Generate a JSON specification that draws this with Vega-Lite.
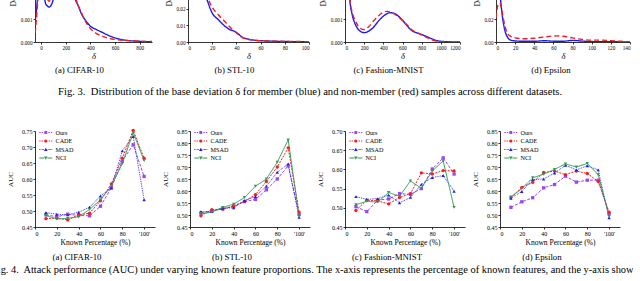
{
"$schema": "https://vega.github.io/schema/vega-lite/v6.json",
"padding": {"left": -8, "top": -54, "right": -2, "bottom": 0},
"background": "white",
"config": {
  "font": "Liberation Serif",
  "view": {"stroke": null},
  "axis": {"grid": false, "domainColor": "#000", "tickColor": "#000", "labelColor": "#000", "titleColor": "#000", "domainWidth": 0.8, "tickWidth": 0.8, "tickSize": 2, "titleFontWeight": "normal", "labelFont": "Liberation Serif", "titleFont": "Liberation Serif"},
  "title": {"font": "Liberation Serif", "fontWeight": "normal", "color": "#000"},
  "legend": {"labelFont": "Liberation Serif", "labelColor": "#000"}
},
"datasets": {
  "density": [
    {"p":"a","g":"m","x":-48,"y":0.0009},{"p":"a","g":"m","x":-40,"y":0.0013},{"p":"a","g":"m","x":-30,"y":0.0019},{"p":"a","g":"m","x":-15,"y":0.003},{"p":"a","g":"m","x":0,"y":0.0035},{"p":"a","g":"m","x":12,"y":0.0032},{"p":"a","g":"m","x":25,"y":0.0021},{"p":"a","g":"m","x":35,"y":0.0017},{"p":"a","g":"m","x":50,"y":0.00158},{"p":"a","g":"m","x":65,"y":0.00153},{"p":"a","g":"m","x":80,"y":0.0016},{"p":"a","g":"m","x":95,"y":0.0018},{"p":"a","g":"m","x":110,"y":0.0022},{"p":"a","g":"m","x":140,"y":0.0028},{"p":"a","g":"m","x":175,"y":0.0031},{"p":"a","g":"m","x":210,"y":0.003},{"p":"a","g":"m","x":245,"y":0.0024},{"p":"a","g":"m","x":275,"y":0.00188},{"p":"a","g":"m","x":300,"y":0.0016},{"p":"a","g":"m","x":330,"y":0.0012},{"p":"a","g":"m","x":360,"y":0.00095},{"p":"a","g":"m","x":400,"y":0.00069},{"p":"a","g":"m","x":450,"y":0.00054},{"p":"a","g":"m","x":500,"y":0.00041},{"p":"a","g":"m","x":550,"y":0.00028},{"p":"a","g":"m","x":600,"y":0.00018},{"p":"a","g":"m","x":650,"y":0.00011},{"p":"a","g":"m","x":700,"y":0.00007},{"p":"a","g":"m","x":800,"y":0.00003},{"p":"a","g":"m","x":900,"y":0.00001},
    {"p":"a","g":"n","x":-48,"y":0.0004},{"p":"a","g":"n","x":-40,"y":0.0009},{"p":"a","g":"n","x":-30,"y":0.0016},{"p":"a","g":"n","x":-20,"y":0.0024},{"p":"a","g":"n","x":0,"y":0.0034},{"p":"a","g":"n","x":20,"y":0.003},{"p":"a","g":"n","x":35,"y":0.0022},{"p":"a","g":"n","x":50,"y":0.0019},{"p":"a","g":"n","x":65,"y":0.00178},{"p":"a","g":"n","x":80,"y":0.0019},{"p":"a","g":"n","x":100,"y":0.0023},{"p":"a","g":"n","x":140,"y":0.0029},{"p":"a","g":"n","x":180,"y":0.0032},{"p":"a","g":"n","x":220,"y":0.0029},{"p":"a","g":"n","x":255,"y":0.0023},{"p":"a","g":"n","x":280,"y":0.0019},{"p":"a","g":"n","x":300,"y":0.0016},{"p":"a","g":"n","x":330,"y":0.00125},{"p":"a","g":"n","x":360,"y":0.0009},{"p":"a","g":"n","x":400,"y":0.00059},{"p":"a","g":"n","x":450,"y":0.00037},{"p":"a","g":"n","x":500,"y":0.00025},{"p":"a","g":"n","x":550,"y":0.00016},{"p":"a","g":"n","x":600,"y":0.00011},{"p":"a","g":"n","x":700,"y":0.00006},{"p":"a","g":"n","x":800,"y":0.00003},{"p":"a","g":"n","x":900,"y":0.00002},
    {"p":"b","g":"m","x":0,"y":0.052},{"p":"b","g":"m","x":5,"y":0.047},{"p":"b","g":"m","x":10,"y":0.037},{"p":"b","g":"m","x":15,"y":0.027},{"p":"b","g":"m","x":20,"y":0.0175},{"p":"b","g":"m","x":25,"y":0.0135},{"p":"b","g":"m","x":30,"y":0.0099},{"p":"b","g":"m","x":35,"y":0.0073},{"p":"b","g":"m","x":38,"y":0.0066},{"p":"b","g":"m","x":41,"y":0.0052},{"p":"b","g":"m","x":45,"y":0.0028},{"p":"b","g":"m","x":50,"y":0.0017},{"p":"b","g":"m","x":55,"y":0.0011},{"p":"b","g":"m","x":60,"y":0.0008},{"p":"b","g":"m","x":70,"y":0.0005},{"p":"b","g":"m","x":80,"y":0.0003},{"p":"b","g":"m","x":90,"y":0.0002},{"p":"b","g":"m","x":100,"y":0.0001},
    {"p":"b","g":"n","x":0,"y":0.05},{"p":"b","g":"n","x":5,"y":0.048},{"p":"b","g":"n","x":10,"y":0.04},{"p":"b","g":"n","x":15,"y":0.029},{"p":"b","g":"n","x":20,"y":0.021},{"p":"b","g":"n","x":25,"y":0.0165},{"p":"b","g":"n","x":30,"y":0.0127},{"p":"b","g":"n","x":35,"y":0.0088},{"p":"b","g":"n","x":40,"y":0.0055},{"p":"b","g":"n","x":45,"y":0.0027},{"p":"b","g":"n","x":50,"y":0.0015},{"p":"b","g":"n","x":55,"y":0.001},{"p":"b","g":"n","x":60,"y":0.0008},{"p":"b","g":"n","x":70,"y":0.0005},{"p":"b","g":"n","x":80,"y":0.0004},{"p":"b","g":"n","x":90,"y":0.0003},{"p":"b","g":"n","x":100,"y":0.0002},
    {"p":"c","g":"m","x":30,"y":0.004},{"p":"c","g":"m","x":50,"y":0.0019},{"p":"c","g":"m","x":75,"y":0.0012},{"p":"c","g":"m","x":100,"y":0.00085},{"p":"c","g":"m","x":130,"y":0.0006},{"p":"c","g":"m","x":160,"y":0.00047},{"p":"c","g":"m","x":200,"y":0.00041},{"p":"c","g":"m","x":250,"y":0.00048},{"p":"c","g":"m","x":300,"y":0.00066},{"p":"c","g":"m","x":350,"y":0.00092},{"p":"c","g":"m","x":400,"y":0.00113},{"p":"c","g":"m","x":450,"y":0.00126},{"p":"c","g":"m","x":480,"y":0.00128},{"p":"c","g":"m","x":520,"y":0.00124},{"p":"c","g":"m","x":560,"y":0.00112},{"p":"c","g":"m","x":600,"y":0.00095},{"p":"c","g":"m","x":650,"y":0.0007},{"p":"c","g":"m","x":700,"y":0.00049},{"p":"c","g":"m","x":750,"y":0.0004},{"p":"c","g":"m","x":800,"y":0.00033},{"p":"c","g":"m","x":850,"y":0.00024},{"p":"c","g":"m","x":900,"y":0.00015},{"p":"c","g":"m","x":950,"y":0.00007},{"p":"c","g":"m","x":1000,"y":0.00003},{"p":"c","g":"m","x":1100,"y":0.00001},{"p":"c","g":"m","x":1200,"y":0},
    {"p":"c","g":"n","x":30,"y":0.004},{"p":"c","g":"n","x":50,"y":0.0019},{"p":"c","g":"n","x":75,"y":0.0013},{"p":"c","g":"n","x":100,"y":0.001},{"p":"c","g":"n","x":130,"y":0.00075},{"p":"c","g":"n","x":160,"y":0.0006},{"p":"c","g":"n","x":200,"y":0.00054},{"p":"c","g":"n","x":250,"y":0.00068},{"p":"c","g":"n","x":300,"y":0.00093},{"p":"c","g":"n","x":350,"y":0.00115},{"p":"c","g":"n","x":400,"y":0.0013},{"p":"c","g":"n","x":440,"y":0.00134},{"p":"c","g":"n","x":500,"y":0.00126},{"p":"c","g":"n","x":550,"y":0.00112},{"p":"c","g":"n","x":600,"y":0.00094},{"p":"c","g":"n","x":650,"y":0.00074},{"p":"c","g":"n","x":700,"y":0.00052},{"p":"c","g":"n","x":750,"y":0.00041},{"p":"c","g":"n","x":800,"y":0.00031},{"p":"c","g":"n","x":850,"y":0.0002},{"p":"c","g":"n","x":900,"y":0.00011},{"p":"c","g":"n","x":950,"y":0.00004},{"p":"c","g":"n","x":1000,"y":0.00001},{"p":"c","g":"n","x":1100,"y":0},{"p":"c","g":"n","x":1200,"y":0},
    {"p":"d","g":"m","x":0,"y":0.06},{"p":"d","g":"m","x":2,"y":0.075},{"p":"d","g":"m","x":4,"y":0.045},{"p":"d","g":"m","x":6,"y":0.027},{"p":"d","g":"m","x":8,"y":0.015},{"p":"d","g":"m","x":10,"y":0.008},{"p":"d","g":"m","x":12,"y":0.0042},{"p":"d","g":"m","x":15,"y":0.0018},{"p":"d","g":"m","x":20,"y":0.0009},{"p":"d","g":"m","x":30,"y":0.0006},{"p":"d","g":"m","x":40,"y":0.0006},{"p":"d","g":"m","x":50,"y":0.0011},{"p":"d","g":"m","x":60,"y":0.0007},{"p":"d","g":"m","x":70,"y":0.0006},{"p":"d","g":"m","x":80,"y":0.0014},{"p":"d","g":"m","x":90,"y":0.0008},{"p":"d","g":"m","x":100,"y":0.0004},{"p":"d","g":"m","x":120,"y":0.0002},{"p":"d","g":"m","x":140,"y":0.0001},
    {"p":"d","g":"n","x":0,"y":0.021},{"p":"d","g":"n","x":2,"y":0.032},{"p":"d","g":"n","x":4,"y":0.034},{"p":"d","g":"n","x":6,"y":0.028},{"p":"d","g":"n","x":8,"y":0.019},{"p":"d","g":"n","x":10,"y":0.012},{"p":"d","g":"n","x":12,"y":0.0075},{"p":"d","g":"n","x":15,"y":0.005},{"p":"d","g":"n","x":20,"y":0.0036},{"p":"d","g":"n","x":30,"y":0.0028},{"p":"d","g":"n","x":40,"y":0.0033},{"p":"d","g":"n","x":50,"y":0.0043},{"p":"d","g":"n","x":60,"y":0.0052},{"p":"d","g":"n","x":65,"y":0.0053},{"p":"d","g":"n","x":70,"y":0.005},{"p":"d","g":"n","x":80,"y":0.0036},{"p":"d","g":"n","x":90,"y":0.0022},{"p":"d","g":"n","x":100,"y":0.0016},{"p":"d","g":"n","x":110,"y":0.0016},{"p":"d","g":"n","x":120,"y":0.0012},{"p":"d","g":"n","x":130,"y":0.0006},{"p":"d","g":"n","x":140,"y":0.0002}
  ],
  "auc": [
    {"p":"a","m":"Ours","x":10,"v":0.488},{"p":"a","m":"Ours","x":20,"v":0.482},{"p":"a","m":"Ours","x":30,"v":0.49},{"p":"a","m":"Ours","x":40,"v":0.486},{"p":"a","m":"Ours","x":50,"v":0.485},{"p":"a","m":"Ours","x":60,"v":0.515},{"p":"a","m":"Ours","x":70,"v":0.573},{"p":"a","m":"Ours","x":80,"v":0.656},{"p":"a","m":"Ours","x":90,"v":0.707},{"p":"a","m":"Ours","x":100,"v":0.608},
    {"p":"a","m":"CADE","x":10,"v":0.476},{"p":"a","m":"CADE","x":20,"v":0.478},{"p":"a","m":"CADE","x":30,"v":0.472},{"p":"a","m":"CADE","x":40,"v":0.488},{"p":"a","m":"CADE","x":50,"v":0.493},{"p":"a","m":"CADE","x":60,"v":0.532},{"p":"a","m":"CADE","x":70,"v":0.585},{"p":"a","m":"CADE","x":80,"v":0.665},{"p":"a","m":"CADE","x":90,"v":0.752},{"p":"a","m":"CADE","x":100,"v":0.665},
    {"p":"a","m":"MSAD","x":10,"v":0.495},{"p":"a","m":"MSAD","x":20,"v":0.49},{"p":"a","m":"MSAD","x":30,"v":0.488},{"p":"a","m":"MSAD","x":40,"v":0.496},{"p":"a","m":"MSAD","x":50,"v":0.512},{"p":"a","m":"MSAD","x":60,"v":0.547},{"p":"a","m":"MSAD","x":70,"v":0.572},{"p":"a","m":"MSAD","x":80,"v":0.688},{"p":"a","m":"MSAD","x":90,"v":0.733},{"p":"a","m":"MSAD","x":100,"v":0.535},
    {"p":"a","m":"NCI","x":10,"v":0.486},{"p":"a","m":"NCI","x":20,"v":0.475},{"p":"a","m":"NCI","x":30,"v":0.477},{"p":"a","m":"NCI","x":40,"v":0.482},{"p":"a","m":"NCI","x":50,"v":0.505},{"p":"a","m":"NCI","x":60,"v":0.535},{"p":"a","m":"NCI","x":70,"v":0.578},{"p":"a","m":"NCI","x":80,"v":0.648},{"p":"a","m":"NCI","x":90,"v":0.745},{"p":"a","m":"NCI","x":100,"v":0.658},
    {"p":"b","m":"Ours","x":10,"v":0.508},{"p":"b","m":"Ours","x":20,"v":0.517},{"p":"b","m":"Ours","x":30,"v":0.526},{"p":"b","m":"Ours","x":40,"v":0.535},{"p":"b","m":"Ours","x":50,"v":0.556},{"p":"b","m":"Ours","x":60,"v":0.565},{"p":"b","m":"Ours","x":70,"v":0.605},{"p":"b","m":"Ours","x":80,"v":0.65},{"p":"b","m":"Ours","x":90,"v":0.705},{"p":"b","m":"Ours","x":100,"v":0.502},
    {"p":"b","m":"CADE","x":10,"v":0.497},{"p":"b","m":"CADE","x":20,"v":0.522},{"p":"b","m":"CADE","x":30,"v":0.525},{"p":"b","m":"CADE","x":40,"v":0.538},{"p":"b","m":"CADE","x":50,"v":0.557},{"p":"b","m":"CADE","x":60,"v":0.585},{"p":"b","m":"CADE","x":70,"v":0.64},{"p":"b","m":"CADE","x":80,"v":0.7},{"p":"b","m":"CADE","x":90,"v":0.78},{"p":"b","m":"CADE","x":100,"v":0.512},
    {"p":"b","m":"MSAD","x":10,"v":0.514},{"p":"b","m":"MSAD","x":20,"v":0.514},{"p":"b","m":"MSAD","x":30,"v":0.528},{"p":"b","m":"MSAD","x":40,"v":0.53},{"p":"b","m":"MSAD","x":50,"v":0.56},{"p":"b","m":"MSAD","x":60,"v":0.577},{"p":"b","m":"MSAD","x":70,"v":0.62},{"p":"b","m":"MSAD","x":80,"v":0.678},{"p":"b","m":"MSAD","x":90,"v":0.713},{"p":"b","m":"MSAD","x":100,"v":0.49},
    {"p":"b","m":"NCI","x":10,"v":0.505},{"p":"b","m":"NCI","x":20,"v":0.512},{"p":"b","m":"NCI","x":30,"v":0.532},{"p":"b","m":"NCI","x":40,"v":0.545},{"p":"b","m":"NCI","x":50,"v":0.573},{"p":"b","m":"NCI","x":60,"v":0.62},{"p":"b","m":"NCI","x":70,"v":0.65},{"p":"b","m":"NCI","x":80,"v":0.72},{"p":"b","m":"NCI","x":90,"v":0.813},{"p":"b","m":"NCI","x":100,"v":0.496},
    {"p":"c","m":"Ours","x":10,"v":0.503},{"p":"c","m":"Ours","x":20,"v":0.49},{"p":"c","m":"Ours","x":30,"v":0.52},{"p":"c","m":"Ours","x":40,"v":0.523},{"p":"c","m":"Ours","x":50,"v":0.537},{"p":"c","m":"Ours","x":60,"v":0.535},{"p":"c","m":"Ours","x":70,"v":0.55},{"p":"c","m":"Ours","x":80,"v":0.601},{"p":"c","m":"Ours","x":90,"v":0.63},{"p":"c","m":"Ours","x":100,"v":0.588},
    {"p":"c","m":"CADE","x":10,"v":0.493},{"p":"c","m":"CADE","x":20,"v":0.52},{"p":"c","m":"CADE","x":30,"v":0.518},{"p":"c","m":"CADE","x":40,"v":0.51},{"p":"c","m":"CADE","x":50,"v":0.527},{"p":"c","m":"CADE","x":60,"v":0.537},{"p":"c","m":"CADE","x":70,"v":0.591},{"p":"c","m":"CADE","x":80,"v":0.588},{"p":"c","m":"CADE","x":90,"v":0.597},{"p":"c","m":"CADE","x":100,"v":0.596},
    {"p":"c","m":"MSAD","x":10,"v":0.529},{"p":"c","m":"MSAD","x":20,"v":0.522},{"p":"c","m":"MSAD","x":30,"v":0.524},{"p":"c","m":"MSAD","x":40,"v":0.533},{"p":"c","m":"MSAD","x":50,"v":0.513},{"p":"c","m":"MSAD","x":60,"v":0.527},{"p":"c","m":"MSAD","x":70,"v":0.561},{"p":"c","m":"MSAD","x":80,"v":0.579},{"p":"c","m":"MSAD","x":90,"v":0.584},{"p":"c","m":"MSAD","x":100,"v":0.543},
    {"p":"c","m":"NCI","x":10,"v":0.508},{"p":"c","m":"NCI","x":20,"v":0.517},{"p":"c","m":"NCI","x":30,"v":0.515},{"p":"c","m":"NCI","x":40,"v":0.54},{"p":"c","m":"NCI","x":50,"v":0.53},{"p":"c","m":"NCI","x":60,"v":0.57},{"p":"c","m":"NCI","x":70,"v":0.551},{"p":"c","m":"NCI","x":80,"v":0.596},{"p":"c","m":"NCI","x":90,"v":0.622},{"p":"c","m":"NCI","x":100,"v":0.501},
    {"p":"d","m":"Ours","x":10,"v":0.532},{"p":"d","m":"Ours","x":20,"v":0.555},{"p":"d","m":"Ours","x":30,"v":0.572},{"p":"d","m":"Ours","x":40,"v":0.613},{"p":"d","m":"Ours","x":50,"v":0.627},{"p":"d","m":"Ours","x":60,"v":0.662},{"p":"d","m":"Ours","x":70,"v":0.637},{"p":"d","m":"Ours","x":80,"v":0.645},{"p":"d","m":"Ours","x":90,"v":0.645},{"p":"d","m":"Ours","x":100,"v":0.505},
    {"p":"d","m":"CADE","x":10,"v":0.573},{"p":"d","m":"CADE","x":20,"v":0.615},{"p":"d","m":"CADE","x":30,"v":0.636},{"p":"d","m":"CADE","x":40,"v":0.677},{"p":"d","m":"CADE","x":50,"v":0.683},{"p":"d","m":"CADE","x":60,"v":0.668},{"p":"d","m":"CADE","x":70,"v":0.683},{"p":"d","m":"CADE","x":80,"v":0.673},{"p":"d","m":"CADE","x":90,"v":0.64},{"p":"d","m":"CADE","x":100,"v":0.512},
    {"p":"d","m":"MSAD","x":10,"v":0.57},{"p":"d","m":"MSAD","x":20,"v":0.598},{"p":"d","m":"MSAD","x":30,"v":0.648},{"p":"d","m":"MSAD","x":40,"v":0.65},{"p":"d","m":"MSAD","x":50,"v":0.675},{"p":"d","m":"MSAD","x":60,"v":0.707},{"p":"d","m":"MSAD","x":70,"v":0.688},{"p":"d","m":"MSAD","x":80,"v":0.705},{"p":"d","m":"MSAD","x":90,"v":0.688},{"p":"d","m":"MSAD","x":100,"v":0.488},
    {"p":"d","m":"NCI","x":10,"v":0.575},{"p":"d","m":"NCI","x":20,"v":0.61},{"p":"d","m":"NCI","x":30,"v":0.655},{"p":"d","m":"NCI","x":40,"v":0.67},{"p":"d","m":"NCI","x":50,"v":0.69},{"p":"d","m":"NCI","x":60,"v":0.713},{"p":"d","m":"NCI","x":70,"v":0.7},{"p":"d","m":"NCI","x":80,"v":0.715},{"p":"d","m":"NCI","x":90,"v":0.668},{"p":"d","m":"NCI","x":100,"v":0.495}
  ]
},
"title": {"text": "Fig. 4.\u00a0 Attack performance (AUC) under varying known feature proportions. The x-axis represents the percentage of known features, and the y-axis show", "orient": "bottom", "anchor": "start", "frame": "bounds", "dx": -14.5, "offset": 4, "fontSize": 10.4},
"spacing": 185,
"bounds": "flush",
"vconcat": [
  {
    "title": {"text": "Fig. 3.\u00a0 Distribution of the base deviation δ for member (blue) and non-member (red) samples across different datasets.", "orient": "bottom", "anchor": "middle", "frame": "bounds", "dx": -10, "offset": 12, "fontSize": 10.6},
    "spacing": 36,
    "bounds": "flush",
    "hconcat": [
      {
        "width": 117, "height": 96,
        "title": {"text": "(a) CIFAR-10", "orient": "bottom", "anchor": "middle", "frame": "group", "dx": -14, "offset": 6, "fontSize": 8.8},
        "data": {"name": "density"},
        "transform": [{"filter": "datum.p == 'a'"}],
        "mark": {"type": "line", "clip": true, "interpolate": "monotone", "strokeWidth": 1.4},
        "encoding": {
          "x": {"field": "x", "type": "quantitative", "scale": {"domain": [-50, 900], "nice": false, "zero": false}, "axis": {"values": [0, 200, 400, 600, 800], "format": "d", "title": "δ", "titleFontStyle": "italic", "titleFontSize": 8.5, "titlePadding": 1, "labelFontSize": 5.2, "labelPadding": 1}},
          "y": {"field": "y", "type": "quantitative", "scale": {"domain": [0, 0.0042], "nice": false}, "axis": {"values": [0, 0.001, 0.002, 0.003, 0.004], "format": ".3f", "title": "Density", "titleFontSize": 7.5, "titlePadding": 2.5, "labelFontSize": 5.2, "labelPadding": 1}},
          "color": {"field": "g", "type": "nominal", "scale": {"domain": ["m", "n"], "range": ["#1a1af5", "#f01f1f"]}, "legend": null},
          "strokeDash": {"field": "g", "type": "nominal", "scale": {"domain": ["m", "n"], "range": [[1, 0], [5, 3]]}, "legend": null}
        }
      },
      {
        "width": 121, "height": 96,
        "title": {"text": "(b) STL-10", "orient": "bottom", "anchor": "middle", "frame": "group", "dx": -14, "offset": 6, "fontSize": 8.8},
        "data": {"name": "density"},
        "transform": [{"filter": "datum.p == 'b'"}],
        "mark": {"type": "line", "clip": true, "interpolate": "monotone", "strokeWidth": 1.4},
        "encoding": {
          "x": {"field": "x", "type": "quantitative", "scale": {"domain": [0, 100], "nice": false}, "axis": {"values": [0, 20, 40, 60, 80, 100], "format": "d", "title": "δ", "titleFontStyle": "italic", "titleFontSize": 8.5, "titlePadding": 1, "labelFontSize": 5.2, "labelPadding": 1}},
          "y": {"field": "y", "type": "quantitative", "scale": {"domain": [0, 0.058], "nice": false}, "axis": {"values": [0, 0.01, 0.02, 0.03, 0.04, 0.05], "format": ".2f", "title": "Density", "titleFontSize": 7.5, "titlePadding": 2.5, "labelFontSize": 5.2, "labelPadding": 1}},
          "color": {"field": "g", "type": "nominal", "scale": {"domain": ["m", "n"], "range": ["#1a1af5", "#f01f1f"]}, "legend": null},
          "strokeDash": {"field": "g", "type": "nominal", "scale": {"domain": ["m", "n"], "range": [[1, 0], [5, 3]]}, "legend": null}
        }
      },
      {
        "width": 115, "height": 96,
        "title": {"text": "(c) Fashion-MNIST", "orient": "bottom", "anchor": "middle", "frame": "group", "dx": -14, "offset": 6, "fontSize": 8.8},
        "data": {"name": "density"},
        "transform": [{"filter": "datum.p == 'c'"}],
        "mark": {"type": "line", "clip": true, "interpolate": "monotone", "strokeWidth": 1.4},
        "encoding": {
          "x": {"field": "x", "type": "quantitative", "scale": {"domain": [0, 1200], "nice": false}, "axis": {"values": [0, 200, 400, 600, 800, 1000, 1200], "format": "d", "title": "δ", "titleFontStyle": "italic", "titleFontSize": 8.5, "titlePadding": 1, "labelFontSize": 5.2, "labelPadding": 1}},
          "y": {"field": "y", "type": "quantitative", "scale": {"domain": [0, 0.0042], "nice": false}, "axis": {"values": [0, 0.001, 0.002, 0.003, 0.004], "format": ".3f", "title": "Density", "titleFontSize": 7.5, "titlePadding": 2.5, "labelFontSize": 5.2, "labelPadding": 1}},
          "color": {"field": "g", "type": "nominal", "scale": {"domain": ["m", "n"], "range": ["#1a1af5", "#f01f1f"]}, "legend": null},
          "strokeDash": {"field": "g", "type": "nominal", "scale": {"domain": ["m", "n"], "range": [[1, 0], [5, 3]]}, "legend": null}
        }
      },
      {
        "width": 134, "height": 96,
        "title": {"text": "(d) Epsilon", "orient": "bottom", "anchor": "middle", "frame": "group", "dx": -12, "offset": 6, "fontSize": 8.8},
        "data": {"name": "density"},
        "transform": [{"filter": "datum.p == 'd'"}],
        "mark": {"type": "line", "clip": true, "interpolate": "monotone", "strokeWidth": 1.4},
        "encoding": {
          "x": {"field": "x", "type": "quantitative", "scale": {"domain": [0, 140], "nice": false}, "axis": {"values": [0, 20, 40, 60, 80, 100, 120, 140], "format": "d", "title": "δ", "titleFontStyle": "italic", "titleFontSize": 8.5, "titlePadding": 1, "labelFontSize": 5.2, "labelPadding": 1}},
          "y": {"field": "y", "type": "quantitative", "scale": {"domain": [0, 0.0835], "nice": false}, "axis": {"values": [0, 0.02, 0.04, 0.06, 0.08], "format": ".2f", "title": "Density", "titleFontSize": 7.5, "titlePadding": 2.5, "labelFontSize": 5.2, "labelPadding": 1}},
          "color": {"field": "g", "type": "nominal", "scale": {"domain": ["m", "n"], "range": ["#1a1af5", "#f01f1f"]}, "legend": null},
          "strokeDash": {"field": "g", "type": "nominal", "scale": {"domain": ["m", "n"], "range": [[1, 0], [5, 3]]}, "legend": null}
        }
      }
    ]
  },
  {
    "spacing": 35,
    "bounds": "flush",
    "hconcat": [
      {
        "width": 120, "height": 96,
        "title": {"text": "(a) CIFAR-10", "orient": "bottom", "anchor": "middle", "frame": "group", "dx": -18, "offset": 6.5, "fontSize": 8.8},
        "data": {"name": "auc"},
        "transform": [{"filter": "datum.p == 'a'"}],
        "encoding": {
          "x": {"field": "x", "type": "quantitative", "scale": {"domain": [0, 110], "nice": false}, "axis": {"values": [0, 20, 40, 60, 80, 100], "labelExpr": "datum.value == 100 ? \"'100'\" : datum.label", "title": "Known Percentage (%)", "titleFontSize": 7.5, "titlePadding": 2.5, "labelFontSize": 6, "labelPadding": 1}},
          "y": {"field": "v", "type": "quantitative", "scale": {"domain": [0.45, 0.75], "nice": false, "zero": false}, "axis": {"values": [0.45, 0.5, 0.55, 0.6, 0.65, 0.7, 0.75], "format": ".2f", "title": "AUC", "titleFontSize": 7, "titlePadding": 8, "labelFontSize": 6, "labelPadding": 1}}
        },
        "layer": [
          {"mark": {"type": "line", "strokeWidth": 1}, "encoding": {"color": {"field": "m", "type": "nominal", "scale": {"domain": ["Ours", "CADE", "MSAD", "NCI"], "range": ["#9b47f0", "#f51d1d", "#1a1af5", "#2e9a50"]}, "legend": null}, "strokeDash": {"field": "m", "type": "nominal", "scale": {"domain": ["Ours", "CADE", "MSAD", "NCI"], "range": [[3, 1.5], [2, 1.2], [0.8, 1], [1, 0]]}, "legend": null}}},
          {"mark": {"type": "point", "filled": true, "opacity": 1, "size": 11}, "encoding": {"color": {"field": "m", "type": "nominal", "scale": {"domain": ["Ours", "CADE", "MSAD", "NCI"], "range": ["#9b47f0", "#f51d1d", "#1a1af5", "#2e9a50"]}, "legend": null}, "shape": {"field": "m", "type": "nominal", "scale": {"domain": ["Ours", "CADE", "MSAD", "NCI"], "range": ["square", "circle", "triangle-up", "triangle-down"]}, "legend": null}}},
          {"transform": [{"filter": "false"}], "mark": {"type": "point", "filled": true, "opacity": 1, "size": 42}, "encoding": {
            "color": {"field": "m", "type": "nominal", "scale": {"domain": ["Ours", "CADE", "MSAD", "NCI"], "range": ["#9b47f0", "#f51d1d", "#1a1af5", "#2e9a50"]}, "legend": {"orient": "none", "legendX": 7.3, "legendY": -2, "title": null, "direction": "vertical", "labelFontSize": 6.2, "labelOffset": 6.2, "symbolSize": 42, "rowPadding": 1.5, "padding": 0, "symbolStrokeWidth": 0, "labelLimit": 80}},
            "shape": {"field": "m", "type": "nominal", "scale": {"domain": ["Ours", "CADE", "MSAD", "NCI"], "range": ["M-2,-0.15H-1.55V0.15H-2Z M-1.25,-0.15H-0.8V0.15H-1.25Z M0.8,-0.15H1.25V0.15H0.8Z M1.55,-0.15H2V0.15H1.55Z M-0.45,-0.45H0.45V0.45H-0.45Z", "M-2,-0.15H-1.6V0.15H-2Z M-1.3,-0.15H-0.9V0.15H-1.3Z M0.9,-0.15H1.3V0.15H0.9Z M1.6,-0.15H2V0.15H1.6Z M-0.5,0A0.5,0.5 0 1,0 0.5,0A0.5,0.5 0 1,0 -0.5,0Z", "M-2,-0.15H-1.8V0.15H-2Z M-1.6,-0.15H-1.4V0.15H-1.6Z M-1.2,-0.15H-1V0.15H-1.2Z M-0.8,-0.15H-0.6V0.15H-0.8Z M0.6,-0.15H0.8V0.15H0.6Z M1,-0.15H1.2V0.15H1Z M1.4,-0.15H1.6V0.15H1.4Z M1.8,-0.15H2V0.15H1.8Z M0,-0.55L0.55,0.45H-0.55Z", "M-2,-0.15H-0.5V0.15H-2Z M0.5,-0.15H2V0.15H0.5Z M0,0.55L0.55,-0.45H-0.55Z"]}, "legend": {"orient": "none", "legendX": 7.3, "legendY": -2, "title": null, "direction": "vertical", "labelFontSize": 6.2, "labelOffset": 6.2, "symbolSize": 42, "rowPadding": 1.5, "padding": 0, "symbolStrokeWidth": 0, "labelLimit": 80}}
          }}
        ],
        "resolve": {"scale": {"color": "independent", "shape": "independent", "strokeDash": "independent"}}
      },
      {
        "width": 120, "height": 96,
        "title": {"text": "(b) STL-10", "orient": "bottom", "anchor": "middle", "frame": "group", "dx": -18, "offset": 6.5, "fontSize": 8.8},
        "data": {"name": "auc"},
        "transform": [{"filter": "datum.p == 'b'"}],
        "encoding": {
          "x": {"field": "x", "type": "quantitative", "scale": {"domain": [0, 110], "nice": false}, "axis": {"values": [0, 20, 40, 60, 80, 100], "labelExpr": "datum.value == 100 ? \"'100'\" : datum.label", "title": "Known Percentage (%)", "titleFontSize": 7.5, "titlePadding": 2.5, "labelFontSize": 6, "labelPadding": 1}},
          "y": {"field": "v", "type": "quantitative", "scale": {"domain": [0.45, 0.85], "nice": false, "zero": false}, "axis": {"values": [0.45, 0.5, 0.55, 0.6, 0.65, 0.7, 0.75, 0.8, 0.85], "format": ".2f", "title": "AUC", "titleFontSize": 7, "titlePadding": 8, "labelFontSize": 6, "labelPadding": 1}}
        },
        "layer": [
          {"mark": {"type": "line", "strokeWidth": 1}, "encoding": {"color": {"field": "m", "type": "nominal", "scale": {"domain": ["Ours", "CADE", "MSAD", "NCI"], "range": ["#9b47f0", "#f51d1d", "#1a1af5", "#2e9a50"]}, "legend": null}, "strokeDash": {"field": "m", "type": "nominal", "scale": {"domain": ["Ours", "CADE", "MSAD", "NCI"], "range": [[3, 1.5], [2, 1.2], [0.8, 1], [1, 0]]}, "legend": null}}},
          {"mark": {"type": "point", "filled": true, "opacity": 1, "size": 11}, "encoding": {"color": {"field": "m", "type": "nominal", "scale": {"domain": ["Ours", "CADE", "MSAD", "NCI"], "range": ["#9b47f0", "#f51d1d", "#1a1af5", "#2e9a50"]}, "legend": null}, "shape": {"field": "m", "type": "nominal", "scale": {"domain": ["Ours", "CADE", "MSAD", "NCI"], "range": ["square", "circle", "triangle-up", "triangle-down"]}, "legend": null}}},
          {"transform": [{"filter": "false"}], "mark": {"type": "point", "filled": true, "opacity": 1, "size": 42}, "encoding": {
            "color": {"field": "m", "type": "nominal", "scale": {"domain": ["Ours", "CADE", "MSAD", "NCI"], "range": ["#9b47f0", "#f51d1d", "#1a1af5", "#2e9a50"]}, "legend": {"orient": "none", "legendX": 7.3, "legendY": -2, "title": null, "direction": "vertical", "labelFontSize": 6.2, "labelOffset": 6.2, "symbolSize": 42, "rowPadding": 1.5, "padding": 0, "symbolStrokeWidth": 0, "labelLimit": 80}},
            "shape": {"field": "m", "type": "nominal", "scale": {"domain": ["Ours", "CADE", "MSAD", "NCI"], "range": ["M-2,-0.15H-1.55V0.15H-2Z M-1.25,-0.15H-0.8V0.15H-1.25Z M0.8,-0.15H1.25V0.15H0.8Z M1.55,-0.15H2V0.15H1.55Z M-0.45,-0.45H0.45V0.45H-0.45Z", "M-2,-0.15H-1.6V0.15H-2Z M-1.3,-0.15H-0.9V0.15H-1.3Z M0.9,-0.15H1.3V0.15H0.9Z M1.6,-0.15H2V0.15H1.6Z M-0.5,0A0.5,0.5 0 1,0 0.5,0A0.5,0.5 0 1,0 -0.5,0Z", "M-2,-0.15H-1.8V0.15H-2Z M-1.6,-0.15H-1.4V0.15H-1.6Z M-1.2,-0.15H-1V0.15H-1.2Z M-0.8,-0.15H-0.6V0.15H-0.8Z M0.6,-0.15H0.8V0.15H0.6Z M1,-0.15H1.2V0.15H1Z M1.4,-0.15H1.6V0.15H1.4Z M1.8,-0.15H2V0.15H1.8Z M0,-0.55L0.55,0.45H-0.55Z", "M-2,-0.15H-0.5V0.15H-2Z M0.5,-0.15H2V0.15H0.5Z M0,0.55L0.55,-0.45H-0.55Z"]}, "legend": {"orient": "none", "legendX": 7.3, "legendY": -2, "title": null, "direction": "vertical", "labelFontSize": 6.2, "labelOffset": 6.2, "symbolSize": 42, "rowPadding": 1.5, "padding": 0, "symbolStrokeWidth": 0, "labelLimit": 80}}
          }}
        ],
        "resolve": {"scale": {"color": "independent", "shape": "independent", "strokeDash": "independent"}}
      },
      {
        "width": 120, "height": 96,
        "title": {"text": "(c) Fashion-MNIST", "orient": "bottom", "anchor": "middle", "frame": "group", "dx": -18, "offset": 6.5, "fontSize": 8.8},
        "data": {"name": "auc"},
        "transform": [{"filter": "datum.p == 'c'"}],
        "encoding": {
          "x": {"field": "x", "type": "quantitative", "scale": {"domain": [0, 110], "nice": false}, "axis": {"values": [0, 20, 40, 60, 80, 100], "labelExpr": "datum.value == 100 ? \"'100'\" : datum.label", "title": "Known Percentage (%)", "titleFontSize": 7.5, "titlePadding": 2.5, "labelFontSize": 6, "labelPadding": 1}},
          "y": {"field": "v", "type": "quantitative", "scale": {"domain": [0.45, 0.7], "nice": false, "zero": false}, "axis": {"values": [0.45, 0.5, 0.55, 0.6, 0.65, 0.7], "format": ".2f", "title": "AUC", "titleFontSize": 7, "titlePadding": 8, "labelFontSize": 6, "labelPadding": 1}}
        },
        "layer": [
          {"mark": {"type": "line", "strokeWidth": 1}, "encoding": {"color": {"field": "m", "type": "nominal", "scale": {"domain": ["Ours", "CADE", "MSAD", "NCI"], "range": ["#9b47f0", "#f51d1d", "#1a1af5", "#2e9a50"]}, "legend": null}, "strokeDash": {"field": "m", "type": "nominal", "scale": {"domain": ["Ours", "CADE", "MSAD", "NCI"], "range": [[3, 1.5], [2, 1.2], [0.8, 1], [1, 0]]}, "legend": null}}},
          {"mark": {"type": "point", "filled": true, "opacity": 1, "size": 11}, "encoding": {"color": {"field": "m", "type": "nominal", "scale": {"domain": ["Ours", "CADE", "MSAD", "NCI"], "range": ["#9b47f0", "#f51d1d", "#1a1af5", "#2e9a50"]}, "legend": null}, "shape": {"field": "m", "type": "nominal", "scale": {"domain": ["Ours", "CADE", "MSAD", "NCI"], "range": ["square", "circle", "triangle-up", "triangle-down"]}, "legend": null}}},
          {"transform": [{"filter": "false"}], "mark": {"type": "point", "filled": true, "opacity": 1, "size": 42}, "encoding": {
            "color": {"field": "m", "type": "nominal", "scale": {"domain": ["Ours", "CADE", "MSAD", "NCI"], "range": ["#9b47f0", "#f51d1d", "#1a1af5", "#2e9a50"]}, "legend": {"orient": "none", "legendX": 7.3, "legendY": -2, "title": null, "direction": "vertical", "labelFontSize": 6.2, "labelOffset": 6.2, "symbolSize": 42, "rowPadding": 1.5, "padding": 0, "symbolStrokeWidth": 0, "labelLimit": 80}},
            "shape": {"field": "m", "type": "nominal", "scale": {"domain": ["Ours", "CADE", "MSAD", "NCI"], "range": ["M-2,-0.15H-1.55V0.15H-2Z M-1.25,-0.15H-0.8V0.15H-1.25Z M0.8,-0.15H1.25V0.15H0.8Z M1.55,-0.15H2V0.15H1.55Z M-0.45,-0.45H0.45V0.45H-0.45Z", "M-2,-0.15H-1.6V0.15H-2Z M-1.3,-0.15H-0.9V0.15H-1.3Z M0.9,-0.15H1.3V0.15H0.9Z M1.6,-0.15H2V0.15H1.6Z M-0.5,0A0.5,0.5 0 1,0 0.5,0A0.5,0.5 0 1,0 -0.5,0Z", "M-2,-0.15H-1.8V0.15H-2Z M-1.6,-0.15H-1.4V0.15H-1.6Z M-1.2,-0.15H-1V0.15H-1.2Z M-0.8,-0.15H-0.6V0.15H-0.8Z M0.6,-0.15H0.8V0.15H0.6Z M1,-0.15H1.2V0.15H1Z M1.4,-0.15H1.6V0.15H1.4Z M1.8,-0.15H2V0.15H1.8Z M0,-0.55L0.55,0.45H-0.55Z", "M-2,-0.15H-0.5V0.15H-2Z M0.5,-0.15H2V0.15H0.5Z M0,0.55L0.55,-0.45H-0.55Z"]}, "legend": {"orient": "none", "legendX": 7.3, "legendY": -2, "title": null, "direction": "vertical", "labelFontSize": 6.2, "labelOffset": 6.2, "symbolSize": 42, "rowPadding": 1.5, "padding": 0, "symbolStrokeWidth": 0, "labelLimit": 80}}
          }}
        ],
        "resolve": {"scale": {"color": "independent", "shape": "independent", "strokeDash": "independent"}}
      },
      {
        "width": 120, "height": 96,
        "title": {"text": "(d) Epsilon", "orient": "bottom", "anchor": "middle", "frame": "group", "dx": -18, "offset": 6.5, "fontSize": 8.8},
        "data": {"name": "auc"},
        "transform": [{"filter": "datum.p == 'd'"}],
        "encoding": {
          "x": {"field": "x", "type": "quantitative", "scale": {"domain": [0, 110], "nice": false}, "axis": {"values": [0, 20, 40, 60, 80, 100], "labelExpr": "datum.value == 100 ? \"'100'\" : datum.label", "title": "Known Percentage (%)", "titleFontSize": 7.5, "titlePadding": 2.5, "labelFontSize": 6, "labelPadding": 1}},
          "y": {"field": "v", "type": "quantitative", "scale": {"domain": [0.45, 0.85], "nice": false, "zero": false}, "axis": {"values": [0.45, 0.5, 0.55, 0.6, 0.65, 0.7, 0.75, 0.8, 0.85], "format": ".2f", "title": "AUC", "titleFontSize": 7, "titlePadding": 8, "labelFontSize": 6, "labelPadding": 1}}
        },
        "layer": [
          {"mark": {"type": "line", "strokeWidth": 1}, "encoding": {"color": {"field": "m", "type": "nominal", "scale": {"domain": ["Ours", "CADE", "MSAD", "NCI"], "range": ["#9b47f0", "#f51d1d", "#1a1af5", "#2e9a50"]}, "legend": null}, "strokeDash": {"field": "m", "type": "nominal", "scale": {"domain": ["Ours", "CADE", "MSAD", "NCI"], "range": [[3, 1.5], [2, 1.2], [0.8, 1], [1, 0]]}, "legend": null}}},
          {"mark": {"type": "point", "filled": true, "opacity": 1, "size": 11}, "encoding": {"color": {"field": "m", "type": "nominal", "scale": {"domain": ["Ours", "CADE", "MSAD", "NCI"], "range": ["#9b47f0", "#f51d1d", "#1a1af5", "#2e9a50"]}, "legend": null}, "shape": {"field": "m", "type": "nominal", "scale": {"domain": ["Ours", "CADE", "MSAD", "NCI"], "range": ["square", "circle", "triangle-up", "triangle-down"]}, "legend": null}}},
          {"transform": [{"filter": "false"}], "mark": {"type": "point", "filled": true, "opacity": 1, "size": 42}, "encoding": {
            "color": {"field": "m", "type": "nominal", "scale": {"domain": ["Ours", "CADE", "MSAD", "NCI"], "range": ["#9b47f0", "#f51d1d", "#1a1af5", "#2e9a50"]}, "legend": {"orient": "none", "legendX": 7.3, "legendY": -2, "title": null, "direction": "vertical", "labelFontSize": 6.2, "labelOffset": 6.2, "symbolSize": 42, "rowPadding": 1.5, "padding": 0, "symbolStrokeWidth": 0, "labelLimit": 80}},
            "shape": {"field": "m", "type": "nominal", "scale": {"domain": ["Ours", "CADE", "MSAD", "NCI"], "range": ["M-2,-0.15H-1.55V0.15H-2Z M-1.25,-0.15H-0.8V0.15H-1.25Z M0.8,-0.15H1.25V0.15H0.8Z M1.55,-0.15H2V0.15H1.55Z M-0.45,-0.45H0.45V0.45H-0.45Z", "M-2,-0.15H-1.6V0.15H-2Z M-1.3,-0.15H-0.9V0.15H-1.3Z M0.9,-0.15H1.3V0.15H0.9Z M1.6,-0.15H2V0.15H1.6Z M-0.5,0A0.5,0.5 0 1,0 0.5,0A0.5,0.5 0 1,0 -0.5,0Z", "M-2,-0.15H-1.8V0.15H-2Z M-1.6,-0.15H-1.4V0.15H-1.6Z M-1.2,-0.15H-1V0.15H-1.2Z M-0.8,-0.15H-0.6V0.15H-0.8Z M0.6,-0.15H0.8V0.15H0.6Z M1,-0.15H1.2V0.15H1Z M1.4,-0.15H1.6V0.15H1.4Z M1.8,-0.15H2V0.15H1.8Z M0,-0.55L0.55,0.45H-0.55Z", "M-2,-0.15H-0.5V0.15H-2Z M0.5,-0.15H2V0.15H0.5Z M0,0.55L0.55,-0.45H-0.55Z"]}, "legend": {"orient": "none", "legendX": 7.3, "legendY": -2, "title": null, "direction": "vertical", "labelFontSize": 6.2, "labelOffset": 6.2, "symbolSize": 42, "rowPadding": 1.5, "padding": 0, "symbolStrokeWidth": 0, "labelLimit": 80}}
          }}
        ],
        "resolve": {"scale": {"color": "independent", "shape": "independent", "strokeDash": "independent"}}
      }
    ]
  }
]
}
